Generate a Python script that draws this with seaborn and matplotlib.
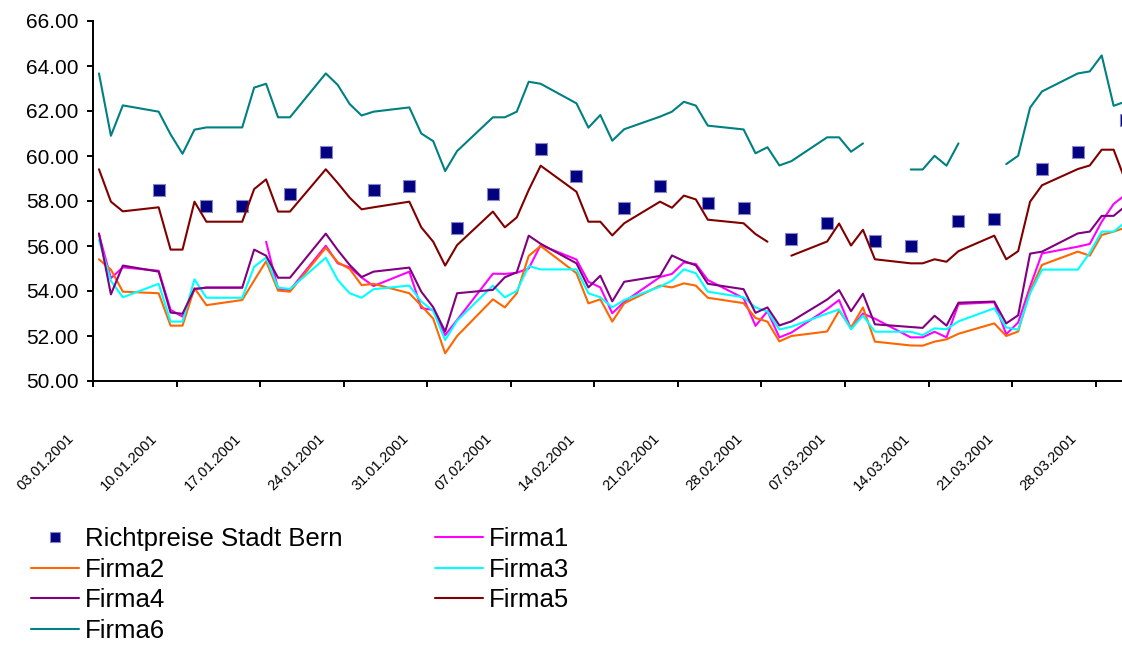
import numpy as np
import pandas as pd
import matplotlib
matplotlib.use("Agg")
import matplotlib.pyplot as plt
from matplotlib.lines import Line2D
from matplotlib.transforms import ScaledTranslation
import seaborn as sns

nan = np.nan

# Trading days, 03.01.2001 - 30.03.2001
dates = pd.bdate_range("2001-01-03", "2001-03-30")

firma1 = [56.52, 54.57, 55.05, 54.90, 53.16, 52.86, 54.09, 54.15, 54.15, nan, 56.19,
          54.10, 54.04, 56.01, 55.23, 55.05, 54.60, 54.22, 54.86, 53.24, 53.16,
          52.04, 52.71, 54.77, 54.76, 54.81, 55.00, 56.04, 55.40, 54.41, 54.16, 53.01,
          53.52, 54.62, 54.76, 55.27, 55.20, 54.49, 53.68, 52.45, 53.10, 51.94, 52.15,
          53.20, 53.60, 52.32, 53.00, 52.77, 51.94, 51.94, 52.19, 51.94, 53.42,
          53.50, 52.08, 52.60, 54.20, 55.67, 55.97, 56.09, 57.08, 57.87, 58.28]

firma2 = [55.41, 54.95, 53.97, 53.90, 52.46, 52.46, 54.13, 53.37, 53.60, 54.47, 55.32,
          54.02, 53.97, 55.92, 55.28, 54.98, 54.26, 54.32, 53.90, 53.35, 52.77,
          51.23, 52.00, 53.63, 53.27, 53.90, 55.56, 56.00, 54.79, 53.45, 53.63, 52.64,
          53.45, 54.24, 54.16, 54.34, 54.24, 53.70, 53.46, 52.80, 52.64, 51.76, 52.00,
          52.20, 53.12, 52.37, 53.27, 51.75, 51.58, 51.57, 51.75, 51.85, 52.10,
          52.56, 52.00, 52.20, 54.00, 55.16, 55.75, 55.57, 56.49, 56.64, 56.82]

firma3 = [56.27, 54.45, 53.72, 54.32, 52.64, 52.64, 54.52, 53.70, 53.70, 55.08, 55.48,
          54.15, 54.09, 55.48, 54.49, 53.90, 53.70, 54.08, 54.24, 53.53, 53.12,
          51.82, 52.68, 54.24, 53.72, 54.00, 55.11, 54.96, 54.96, 53.90, 53.72, 53.27,
          53.60, 54.19, 54.46, 54.96, 54.79, 53.97, 53.72, 53.27, 53.09, 52.29, 52.41,
          53.00, 53.18, 52.30, 52.91, 52.19, 52.19, 52.04, 52.34, 52.30, 52.65,
          53.23, 52.38, 52.28, 53.90, 54.95, 54.95, 55.70, 56.64, 56.64, 57.07]

firma4 = [56.56, 53.85, 55.13, 54.86, 53.04, 52.99, 54.09, 54.15, 54.15, 55.84, 55.57,
          54.59, 54.59, 56.55, 55.82, 55.16, 54.62, 54.86, 55.04, 53.97, 53.28,
          52.20, 53.90, 54.05, 54.61, 54.83, 56.46, 56.10, 55.23, 54.16, 54.68, 53.54,
          54.41, 54.67, 55.58, 55.33, 55.14, 54.32, 54.08, 53.03, 53.27, 52.47, 52.65,
          53.62, 54.04, 53.10, 53.88, 52.52, 52.40, 52.36, 52.90, 52.46, 53.48,
          53.53, 52.56, 52.92, 55.66, 55.75, 56.56, 56.64, 57.34, 57.34, 57.78]

firma5 = [59.41, 57.97, 57.54, 57.72, 55.84, 55.84, 57.97, 57.08, 57.08, 58.53, 58.96,
          57.53, 57.53, 59.41, 58.80, 58.15, 57.63, 57.72, 57.97, 56.83, 56.19,
          55.13, 56.04, 57.53, 56.83, 57.27, 58.49, 59.57, 58.41, 57.08, 57.08, 56.47,
          57.01, 57.97, 57.70, 58.24, 58.07, 57.17, 57.01, 56.53, 56.19, nan, 55.57,
          56.20, 57.00, 56.02, 56.72, 55.41, 55.23, 55.23, 55.41, 55.30, 55.77,
          56.46, 55.41, 55.77, 57.97, 58.70, 59.42, 59.58, 60.28, 60.28, 58.88]

firma6 = [63.67, 60.90, 62.25, 61.97, 60.96, 60.10, 61.17, 61.27, 61.27, 63.04, 63.21,
          61.72, 61.72, 63.67, 63.16, 62.31, 61.80, 61.97, 62.16, 61.00, 60.66,
          59.33, 60.22, 61.72, 61.72, 61.97, 63.30, 63.21, 62.34, 61.26, 61.82, 60.68,
          61.19, 61.75, 61.97, 62.41, 62.24, 61.35, 61.18, 60.12, 60.39, 59.58, 59.77,
          60.83, 60.83, 60.19, 60.56, nan, 59.40, 59.40, 60.01, 59.57, 60.56,
          nan, 59.64, 60.01, 62.15, 62.87, 63.67, 63.76, 64.47, 62.23, 62.42]

richt_dates = ["2001-01-08", "2001-01-12", "2001-01-15", "2001-01-19", "2001-01-22",
               "2001-01-26", "2001-01-29", "2001-02-02", "2001-02-05", "2001-02-09",
               "2001-02-12", "2001-02-16", "2001-02-19", "2001-02-23", "2001-02-26",
               "2001-03-02", "2001-03-05", "2001-03-09", "2001-03-12", "2001-03-16",
               "2001-03-19", "2001-03-23", "2001-03-26", "2001-03-30"]
richt_values = [58.47, 57.79, 57.79, 58.30, 60.19, 58.47, 58.68, 56.79, 58.30, 60.30,
                59.09, 57.67, 58.68, 57.90, 57.67, 56.29, 57.01, 56.20, 55.98, 57.09,
                57.19, 59.41, 60.19, 61.58]

tick_labels = ["03.01.2001", "10.01.2001", "17.01.2001", "24.01.2001", "31.01.2001",
               "07.02.2001", "14.02.2001", "21.02.2001", "28.02.2001", "07.03.2001",
               "14.03.2001", "21.03.2001", "28.03.2001"]

series_names = ["Firma1", "Firma2", "Firma3", "Firma4", "Firma5", "Firma6"]
series_values = [firma1, firma2, firma3, firma4, firma5, firma6]
series_colors = ["#FF00FF", "#FF6600", "#00FFFF", "#800080", "#800000", "#008080"]
marker_color = "#000080"

sns.set_theme(style="white")
plt.rcParams["font.family"] = ["Liberation Sans", "DejaVu Sans"]
plt.rcParams["text.color"] = "black"
plt.rcParams["xtick.color"] = "black"
plt.rcParams["ytick.color"] = "black"

start = dates[0]
day = np.asarray((dates - start).days, dtype=float)
richt_day = np.asarray((pd.to_datetime(richt_dates) - start).days, dtype=float)

fig = plt.figure(figsize=(11.22, 6.47), dpi=100)
ax = fig.add_axes([93 / 1122, 266 / 647, 1029 / 1122, 360 / 647])

# Reference prices as square markers
sns.scatterplot(x=richt_day, y=richt_values, marker="s", s=70, color=marker_color,
                edgecolor="#8888c8", linewidth=0.8, ax=ax, legend=False, zorder=2)

# Company prices; missing quotes break the line into separate segments
for name, vals, col in zip(series_names, series_values, series_colors):
    df = pd.DataFrame({"day": day, "price": vals})
    df["seg"] = df["price"].isna().cumsum()
    df = df.dropna()
    sns.lineplot(data=df, x="day", y="price", units="seg", estimator=None,
                 color=col, linewidth=1.5, ax=ax, legend=False, zorder=3)

ax.set_xlim(-0.5, 85.7)
ax.set_ylim(50, 66)
ax.set_xlabel("")
ax.set_ylabel("")

yt = np.arange(50, 66.01, 2)
ax.set_yticks(yt)
ax.set_yticklabels([f"{v:.2f}" for v in yt])

ax.set_xticks(np.arange(-0.5, 85, 7))
ax.set_xticklabels([])
ax.set_xticks(np.arange(0, 85, 7), minor=True)
ax.set_xticklabels(tick_labels, minor=True, rotation=45, ha="right", va="top",
                   rotation_mode="anchor", fontsize=10.5)

ax.tick_params(axis="both", which="major", direction="out", length=4.3, width=1.4,
               color="black", labelcolor="black", bottom=True, left=True)
ax.tick_params(axis="y", labelsize=15, pad=6)
ax.tick_params(axis="x", which="minor", bottom=True, length=0, pad=36,
               labelcolor="black")

shift = ScaledTranslation(-0.32, 0, fig.dpi_scale_trans)
for lab in ax.get_xticklabels(minor=True):
    lab.set_transform(lab.get_transform() + shift)

for side in ["top", "right"]:
    ax.spines[side].set_visible(False)
for side in ["left", "bottom"]:
    ax.spines[side].set_color("black")
    ax.spines[side].set_linewidth(1.4)

# Legend: two columns under the plot
h_r = Line2D([], [], marker="s", linestyle="None", markersize=7,
             markerfacecolor=marker_color, markeredgecolor="#8888c8", markeredgewidth=0.8)
line_handles = {n: Line2D([], [], color=c, linewidth=1.5)
                for n, c in zip(series_names, series_colors)}
order = ["Firma2", "Firma4", "Firma6", "Firma1", "Firma3", "Firma5"]
handles = [h_r] + [line_handles[n] for n in order]
labels = ["Richtpreise Stadt Bern"] + order
fig.legend(handles, labels, ncol=2, loc="upper left",
           bbox_to_anchor=(31 / 1122, 1 - 527 / 647), frameon=False,
           fontsize=18.5, handlelength=1.87, handletextpad=0.23,
           columnspacing=3.6, labelspacing=0.26, borderpad=0, borderaxespad=0)

fig.savefig("out.png", dpi=100)
